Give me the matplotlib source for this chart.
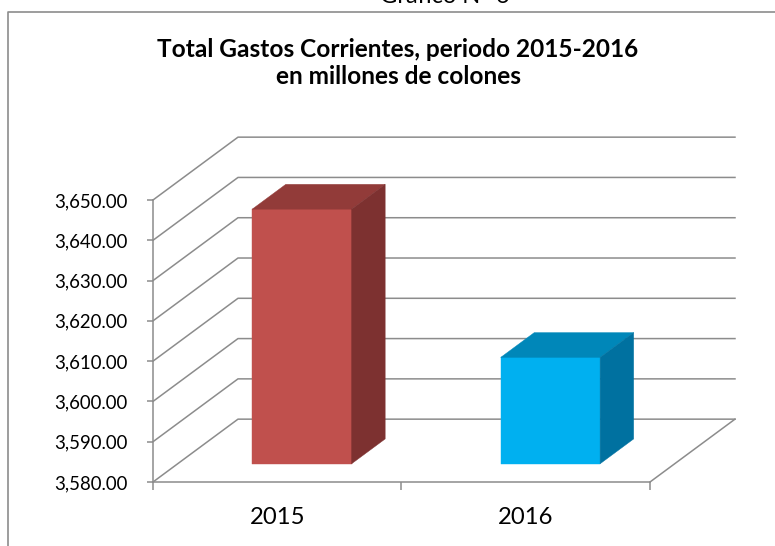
import matplotlib
matplotlib.use("Agg")
import matplotlib.pyplot as plt
from matplotlib.patches import Polygon
from matplotlib.lines import Line2D

plt.rcParams['font.family'] = ['Lato', 'DejaVu Sans']

# --- data ---
years = ["2015", "2016"]
gastos = [3643.2, 3606.4]
y_ticks = [3580, 3590, 3600, 3610, 3620, 3630, 3640, 3650]

front_colors = ["#C0504D", "#00B0F0"]
top_colors = ["#923B39", "#0087B9"]
side_colors = ["#7D3130", "#0071A0"]
grid_color = "#8C8C8C"

W, H = 775, 546
fig = plt.figure(figsize=(W / 100, H / 100), dpi=100)

# front plane of the fake 3D box
ax = fig.add_axes([153 / W, 1 - 482 / H, 497 / W, 282 / H])
ax.set_xlim(0, len(years))
ax.set_ylim(y_ticks[0], y_ticks[-1])

# depth of the box (data units), and where the bars sit inside it
depth_x = 0.342
depth_y = 15.6
bar_d0, bar_d1 = 0.29, 0.685
bar_w = 0.4


def shift(x, y, d):
    return (x + d * depth_x, y + d * depth_y)


# side wall + back wall gridlines
n = len(years)
for v in y_ticks:
    ax.plot([0, depth_x, n + depth_x], [v, v + depth_y, v + depth_y],
            color=grid_color, lw=1.1, clip_on=False, zorder=1)
# right edge of the floor
ax.plot([n, n + depth_x], [y_ticks[0], y_ticks[0] + depth_y],
        color=grid_color, lw=1.1, clip_on=False, zorder=1)

# bars as front / top / side faces
base = y_ticks[0]
for i, v in enumerate(gastos):
    x0 = i + 0.5 - bar_w / 2
    x1 = i + 0.5 + bar_w / 2
    front = [shift(x0, base, bar_d0), shift(x1, base, bar_d0),
             shift(x1, v, bar_d0), shift(x0, v, bar_d0)]
    top = [shift(x0, v, bar_d0), shift(x1, v, bar_d0),
           shift(x1, v, bar_d1), shift(x0, v, bar_d1)]
    side = [shift(x1, base, bar_d0), shift(x1, base, bar_d1),
            shift(x1, v, bar_d1), shift(x1, v, bar_d0)]
    for pts, c in [(front, front_colors[i]), (top, top_colors[i]), (side, side_colors[i])]:
        ax.add_patch(Polygon(pts, closed=True, facecolor=c, edgecolor=c,
                             lw=0.3, clip_on=False, zorder=3))

# axes look
for s in ["top", "right"]:
    ax.spines[s].set_visible(False)
for s in ["left", "bottom"]:
    ax.spines[s].set_color(grid_color)
    ax.spines[s].set_linewidth(1.1)
    ax.spines[s].set_zorder(2)
ax.patch.set_visible(False)

ax.set_yticks(y_ticks)
ax.set_yticklabels([f"{v:,.2f}" for v in y_ticks])
ax.tick_params(axis='y', length=4.3, width=1.1, color=grid_color,
               pad=14, labelsize=13.4, labelcolor="black")

ax.set_xticks(range(n + 1))
ax.set_xticklabels([])
ax.set_xticks([i + 0.5 for i in range(n)], minor=True)
ax.set_xticklabels(years, minor=True)
ax.tick_params(axis='x', which='major', length=5.8, width=1.1, color=grid_color)
ax.tick_params(axis='x', which='minor', length=0, pad=18, labelsize=17.2,
               labelcolor="black")

# titles (the caption above the frame is cut by the page edge, as in the source)
fig.text(445 / W, 1 - 3 / H, "Gráfico N° 6", ha="center", va="baseline",
         fontsize=17)
fig.text(398 / W, 1 - 57 / H, "Total Gastos Corrientes, periodo 2015-2016",
         ha="center", va="baseline", fontsize=17.6, fontweight="bold")
fig.text(398 / W, 1 - 84 / H, "en millones de colones",
         ha="center", va="baseline", fontsize=17.6, fontweight="bold")

# chart frame (left and top edges visible)
fig.add_artist(Line2D([8 / W, 8 / W, 1.0], [0, 1 - 12 / H, 1 - 12 / H],
                      transform=fig.transFigure, color=grid_color, lw=1.2))

fig.savefig("out.png", dpi=100)
